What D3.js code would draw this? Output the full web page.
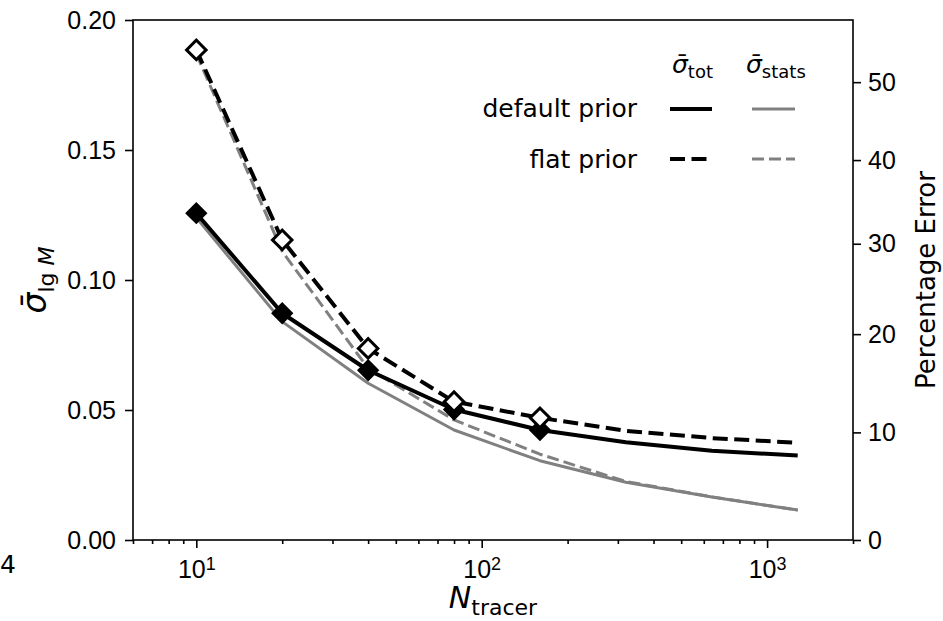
<!DOCTYPE html>
<html>
<head>
<meta charset="utf-8">
<script src="https://cdn.jsdelivr.net/npm/d3@7"></script>
<style>
  body { margin: 0; background: #fff; }
  svg { font-family: "DejaVu Sans", sans-serif; }
  .axis text { font-size: 25px; fill: #000; }
  .axis path, .axis line { stroke: #000; stroke-width: 1.6; }
</style>
</head>
<body>
<div id="chart"></div>
<script>
// number of tracers
const nTracer = [10, 20, 40, 80, 160, 320, 640, 1280];
// sigma_tot, default prior (black solid)
const totDefault = [0.1257, 0.0872, 0.0653, 0.0502, 0.0423, 0.0376, 0.0343, 0.0325];
// sigma_tot, flat prior (black dashed)
const totFlat = [0.1885, 0.1154, 0.0737, 0.0532, 0.0470, 0.0420, 0.0392, 0.0374];
// sigma_stats, default prior (grey solid)
const statsDefault = [0.1240, 0.0840, 0.0603, 0.0423, 0.0305, 0.0222, 0.0165, 0.0115];
// sigma_stats, flat prior (grey dashed)
const statsFlat = [0.1870, 0.1110, 0.0660, 0.0462, 0.0330, 0.0225, 0.0166, 0.0115];
// markers only on the first five points
const nMarked = 5;

const yTicks = [0, 0.05, 0.10, 0.15, 0.20];
const xMajor = [10, 100, 1000];
const xMinor = [6, 7, 8, 9, 20, 30, 40, 50, 60, 70, 80, 90,
  200, 300, 400, 500, 600, 700, 800, 900, 2000];
const pctTicks = [0, 10, 20, 30, 40, 50];

const W = 943, H = 621;
const margin = { top: 20, right: 90, bottom: 81, left: 133 };

const svg = d3.select("#chart").append("svg")
  .attr("width", W).attr("height", H);

const x = d3.scaleLog().domain([6, 2000]).range([margin.left, W - margin.right]);
const y = d3.scaleLinear().domain([0, 0.2]).range([H - margin.bottom, margin.top]);

// box
svg.append("rect")
  .attr("x", margin.left).attr("y", margin.top)
  .attr("width", x.range()[1] - x.range()[0])
  .attr("height", y.range()[0] - y.range()[1])
  .attr("fill", "none").attr("stroke", "#000").attr("stroke-width", 1.6);

// bottom axis
const gxMinor = svg.append("g").attr("class", "axis")
  .attr("transform", "translate(0," + y(0) + ")")
  .call(d3.axisBottom(x).tickValues(xMinor).tickSize(4).tickFormat(""));
gxMinor.select(".domain").remove();

const gx = svg.append("g").attr("class", "axis")
  .attr("transform", "translate(0," + y(0) + ")")
  .call(d3.axisBottom(x).tickValues(xMajor).tickSize(8).tickPadding(5).tickFormat(""));
gx.select(".domain").remove();
gx.selectAll(".tick text").each(function(d) {
  const t = d3.select(this).attr("dy", "1em");
  t.append("tspan").text("10");
  t.append("tspan").attr("dy", "-0.42em").style("font-size", "18px")
    .text(Math.round(Math.log10(d)));
});

// left axis
const gy = svg.append("g").attr("class", "axis")
  .attr("transform", "translate(" + margin.left + ",0)")
  .call(d3.axisLeft(y).tickValues(yTicks).tickSize(8).tickPadding(9).tickFormat(d3.format(".2f")));
gy.select(".domain").remove();

// right axis: percentage error = 10^sigma - 1
const gr = svg.append("g").attr("class", "axis")
  .attr("transform", "translate(" + x.range()[1] + ",0)")
  .call(d3.axisRight(y)
    .tickValues(pctTicks.map(p => Math.log10(1 + p / 100)))
    .tickSize(8).tickPadding(7)
    .tickFormat((d, i) => pctTicks[i]));
gr.select(".domain").remove();

// lines
const line = d3.line()
  .x((d, i) => x(nTracer[i]))
  .y(d => y(d));

const series = [
  { vals: statsDefault, color: "#808080", width: 3, dash: null },
  { vals: statsFlat, color: "#808080", width: 3, dash: "12,5" },
  { vals: totDefault, color: "#000", width: 4, dash: null },
  { vals: totFlat, color: "#000", width: 4, dash: "15,6.5" }
];

svg.selectAll(".series").data(series).enter().append("path")
  .attr("class", "series")
  .attr("d", d => line(d.vals))
  .attr("fill", "none")
  .attr("stroke", d => d.color)
  .attr("stroke-width", d => d.width)
  .attr("stroke-dasharray", d => d.dash)
  .attr("stroke-linejoin", "round");

// diamond markers
const diamond = d3.symbol().type(d3.symbolSquare).size(190);

svg.selectAll(".mk-fill").data(totDefault.slice(0, nMarked)).enter().append("path")
  .attr("class", "mk-fill")
  .attr("d", diamond)
  .attr("transform", (d, i) => "translate(" + x(nTracer[i]) + "," + y(d) + ") rotate(45)")
  .attr("fill", "#000").attr("stroke", "#000").attr("stroke-width", 2);

svg.selectAll(".mk-open").data(totFlat.slice(0, nMarked)).enter().append("path")
  .attr("class", "mk-open")
  .attr("d", diamond)
  .attr("transform", (d, i) => "translate(" + x(nTracer[i]) + "," + y(d) + ") rotate(45)")
  .attr("fill", "#fff").attr("stroke", "#000").attr("stroke-width", 3);

// legend
const lg = svg.append("g").style("font-size", "25px");
lg.append("text").attr("x", 672).attr("y", 73)
  .call(t => {
    t.append("tspan").style("font-style", "italic").text("σ\u0304");
    t.append("tspan").attr("dy", 5).style("font-size", "18px").text("tot");
  });
lg.append("text").attr("x", 746).attr("y", 73)
  .call(t => {
    t.append("tspan").style("font-style", "italic").text("σ\u0304");
    t.append("tspan").attr("dy", 5).style("font-size", "18px").text("stats");
  });
lg.append("text").attr("x", 637).attr("y", 117).attr("text-anchor", "end").text("default prior");
lg.append("text").attr("x", 637).attr("y", 168).attr("text-anchor", "end").text("flat prior");

const legendRows = [
  { y: 109, color: "#000", width: 4, dash: null, x0: 670, x1: 712 },
  { y: 109, color: "#808080", width: 3, dash: null, x0: 752, x1: 795 },
  { y: 159, color: "#000", width: 4, dash: "15,6.5", x0: 670, x1: 712 },
  { y: 159, color: "#808080", width: 3, dash: "12,5", x0: 752, x1: 795 }
];
lg.selectAll("line").data(legendRows).enter().append("line")
  .attr("x1", d => d.x0).attr("x2", d => d.x1)
  .attr("y1", d => d.y).attr("y2", d => d.y)
  .attr("stroke", d => d.color).attr("stroke-width", d => d.width)
  .attr("stroke-dasharray", d => d.dash);

// axis labels
svg.append("text")
  .attr("x", (x.range()[0] + x.range()[1]) / 2).attr("y", 608)
  .attr("text-anchor", "middle").style("font-size", "30px")
  .call(t => {
    t.append("tspan").style("font-style", "italic").text("N");
    t.append("tspan").attr("dy", 7).style("font-size", "22px").text("tracer");
  });

svg.append("text")
  .attr("transform", "translate(46," + ((y.range()[0] + y.range()[1]) / 2) + ") rotate(-90)")
  .attr("text-anchor", "middle").style("font-size", "33px")
  .call(t => {
    t.append("tspan").style("font-style", "italic").text("σ\u0304");
    t.append("tspan").attr("dy", 8).style("font-size", "22px").text("lg");
    t.append("tspan").style("font-size", "22px").style("font-style", "italic").text(" M");
  });

svg.append("text")
  .attr("transform", "translate(935," + ((y.range()[0] + y.range()[1]) / 2) + ") rotate(-90)")
  .attr("text-anchor", "middle").style("font-size", "26px")
  .text("Percentage Error");

// stray label at the far left edge
svg.append("text").attr("x", 0).attr("y", 573)
  .style("font-size", "25px").text("4");
</script>
</body>
</html>
